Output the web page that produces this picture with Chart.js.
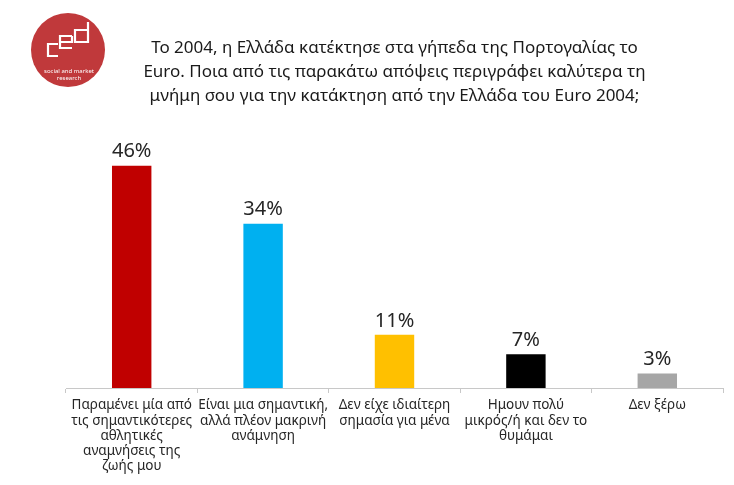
<!DOCTYPE html>
<html>
<head>
<meta charset="utf-8">
<script src="https://cdn.jsdelivr.net/npm/chart.js@4"></script>
<style>
  html, body { margin: 0; padding: 0; background: #fff; }
  #wrap { width: 734px; height: 485px; position: relative; }
</style>
</head>
<body>
<div id="wrap"><canvas id="chart"></canvas></div>
<script>
// δεδομένα γραφήματος
const categories = [
    ['Παραμένει μία από', 'τις σημαντικότερες', 'αθλητικές', 'αναμνήσεις της', 'ζωής μου'],
    ['Είναι μια σημαντική,', 'αλλά πλέον μακρινή', 'ανάμνηση'],
    ['Δεν είχε ιδιαίτερη', 'σημασία για μένα'],
    ['Ημουν πολύ', 'μικρός/ή και δεν το', 'θυμάμαι'],
    ['Δεν ξέρω']
];
const values = [46, 34, 11, 7, 3];
const barColors = ['#C00000', '#00B0F0', '#FFC000', '#000000', '#A6A6A6'];
const titleLines = [
    'Το 2004, η Ελλάδα κατέκτησε στα γήπεδα της Πορτογαλίας το',
    'Euro. Ποια από τις παρακάτω απόψεις περιγράφει καλύτερα τη',
    'μνήμη σου για την κατάκτηση από την Ελλάδα του Euro 2004;'
];

const FONT = "'Noto Sans', 'DejaVu Sans', sans-serif";

// ετικέτες τιμών πάνω από τις μπάρες
const valueLabels = {
    id: 'valueLabels',
    afterDatasetsDraw(chart) {
        const ctx = chart.ctx;
        const meta = chart.getDatasetMeta(0);
        ctx.save();
        ctx.font = '20px ' + FONT;
        ctx.fillStyle = '#262626';
        ctx.textAlign = 'center';
        ctx.textBaseline = 'bottom';
        meta.data.forEach((bar, i) => {
            ctx.fillText(values[i] + '%', bar.x, bar.y - 4);
        });
        ctx.restore();
    }
};

// λογότυπο πάνω αριστερά
const logo = {
    id: 'logo',
    afterDraw(chart) {
        const ctx = chart.ctx;
        ctx.save();
        ctx.fillStyle = '#C0393B';
        ctx.beginPath();
        ctx.arc(68, 50, 37, 0, Math.PI * 2);
        ctx.fill();
        ctx.strokeStyle = '#fff';
        ctx.lineWidth = 2.2;
        ctx.beginPath();
        // c
        ctx.moveTo(58, 44); ctx.lineTo(48, 44); ctx.lineTo(48, 56); ctx.lineTo(58, 56);
        // e
        ctx.moveTo(72, 36); ctx.lineTo(60, 36); ctx.lineTo(60, 48); ctx.lineTo(72, 48);
        ctx.moveTo(60, 42); ctx.lineTo(72, 42); ctx.lineTo(72, 36);
        // d
        ctx.moveTo(88, 22); ctx.lineTo(88, 42); ctx.lineTo(75, 42); ctx.lineTo(75, 30); ctx.lineTo(88, 30);
        ctx.stroke();
        ctx.fillStyle = '#fff';
        ctx.font = '6px ' + FONT;
        ctx.textAlign = 'center';
        ctx.fillText('social and market', 69, 73);
        ctx.fillText('research', 69, 80);
        ctx.restore();
    }
};

new Chart(document.getElementById('chart'), {
    type: 'bar',
    data: {
        labels: categories,
        datasets: [{
            data: values,
            backgroundColor: barColors,
            barPercentage: 0.3,
            categoryPercentage: 1
        }]
    },
    options: {
        responsive: true,
        maintainAspectRatio: false,
        animation: false,
        layout: { padding: { left: 66, right: 11, top: 0, bottom: 0 } },
        plugins: {
            legend: { display: false },
            tooltip: { enabled: false },
            title: {
                display: true,
                text: titleLines,
                fullSize: false,
                color: '#1a1a1a',
                font: { family: FONT, size: 17, weight: 'normal', lineHeight: 1.42 },
                padding: { top: 36, bottom: 38 }
            }
        },
        scales: {
            x: {
                offset: true,
                border: { color: '#C8C8C8', width: 1 },
                grid: {
                    offset: true,
                    drawOnChartArea: false,
                    drawTicks: true,
                    tickLength: 5,
                    color: '#C8C8C8'
                },
                ticks: {
                    color: '#262626',
                    font: { family: FONT, size: 13.5, lineHeight: 1.12 },
                    maxRotation: 0,
                    autoSkip: false,
                    padding: 5
                },
                afterFit: (s) => { s.height = 97; }
            },
            y: {
                display: false,
                min: 0,
                max: 50
            }
        }
    },
    plugins: [valueLabels, logo]
});
</script>
</body>
</html>
